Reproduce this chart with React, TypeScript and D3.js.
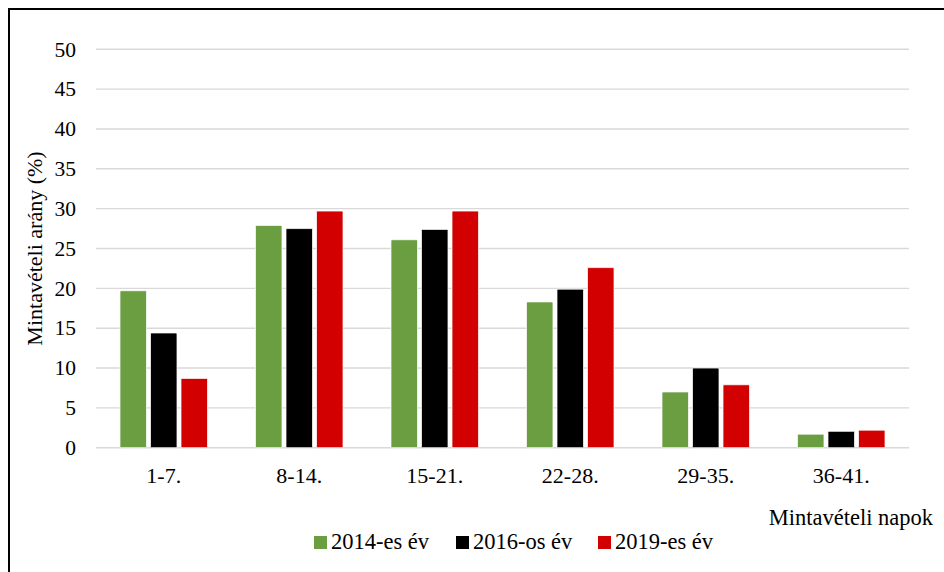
import * as d3 from 'd3'

const categories = ['1-7.', '8-14.', '15-21.', '22-28.', '29-35.', '36-41.']
const seriesNames = ['2014-es év', '2016-os év', '2019-es év']
const values2014 = [19.7, 27.9, 26.1, 18.3, 7.0, 1.7]
const values2016 = [14.4, 27.5, 27.4, 19.9, 10.0, 2.05]
const values2019 = [8.7, 29.7, 29.7, 22.6, 7.9, 2.2]
const seriesColors = ['#6a9e41', '#000000', '#d20000']
const yTicks = [0, 5, 10, 15, 20, 25, 30, 35, 40, 45, 50]

const W = 944
const H = 572
const FONT = '"Liberation Serif", "Times New Roman", serif'

export default function App(): JSX.Element {
  const series = [values2014, values2016, values2019]
  const x0 = d3.scaleBand<string>().domain(categories).range([96, 909]).paddingInner(0.354).paddingOuter(0.177)
  const x1 = d3.scaleBand<number>().domain([0, 1, 2]).range([0, x0.bandwidth()]).paddingInner(0.131)
  const y = d3.scaleLinear().domain([0, 50]).range([447.7, 49.3])

  const legendX = [314, 456, 598]

  return (
    <svg
      width={W}
      height={H}
      style={{ position: 'fixed', left: 0, top: 0, background: '#fff' }}
      fontFamily={FONT}
    >
      <rect x={0} y={0} width={W} height={H} fill="#fff" />
      <rect x={9} y={9} width={1200} height={1200} fill="none" stroke="#000" strokeWidth={2} />

      {yTicks.map((t) => (
        <g key={t}>
          <line x1={96} x2={909} y1={y(t)} y2={y(t)} stroke="#d9d9d9" strokeWidth={1.4} />
          <text x={76} y={y(t)} dy="0.34em" textAnchor="end" fontSize={21.5} fill="#000">
            {t}
          </text>
        </g>
      ))}

      {categories.map((c, ci) => (
        <g key={c} transform={`translate(${x0(c)},0)`}>
          {series.map((vals, si) => (
            <rect
              key={si}
              x={x1(si)}
              y={y(vals[ci])}
              width={x1.bandwidth()}
              height={y(0) - y(vals[ci])}
              fill={seriesColors[si]}
              stroke="#fff"
              strokeWidth={0.75}
              rx={1}
            />
          ))}
          <text
            x={x0.bandwidth() / 2}
            y={483}
            textAnchor="middle"
            fontSize={22}
            fill="#000"
          >
            {c}
          </text>
        </g>
      ))}

      <text
        transform={`translate(42,${(y(0) + y(50)) / 2}) rotate(-90)`}
        textAnchor="middle"
        fontSize={22}
        fill="#000"
      >
        Mintavételi arány (%)
      </text>

      <text x={933} y={525} textAnchor="end" fontSize={22.5} fill="#000">
        Mintavételi napok
      </text>

      {seriesNames.map((name, i) => (
        <g key={name} transform={`translate(${legendX[i]},0)`}>
          <rect x={0} y={536} width={13} height={13} fill={seriesColors[i]} />
          <text x={17} y={549} fontSize={22.5} fill="#000">
            {name}
          </text>
        </g>
      ))}
    </svg>
  )
}
